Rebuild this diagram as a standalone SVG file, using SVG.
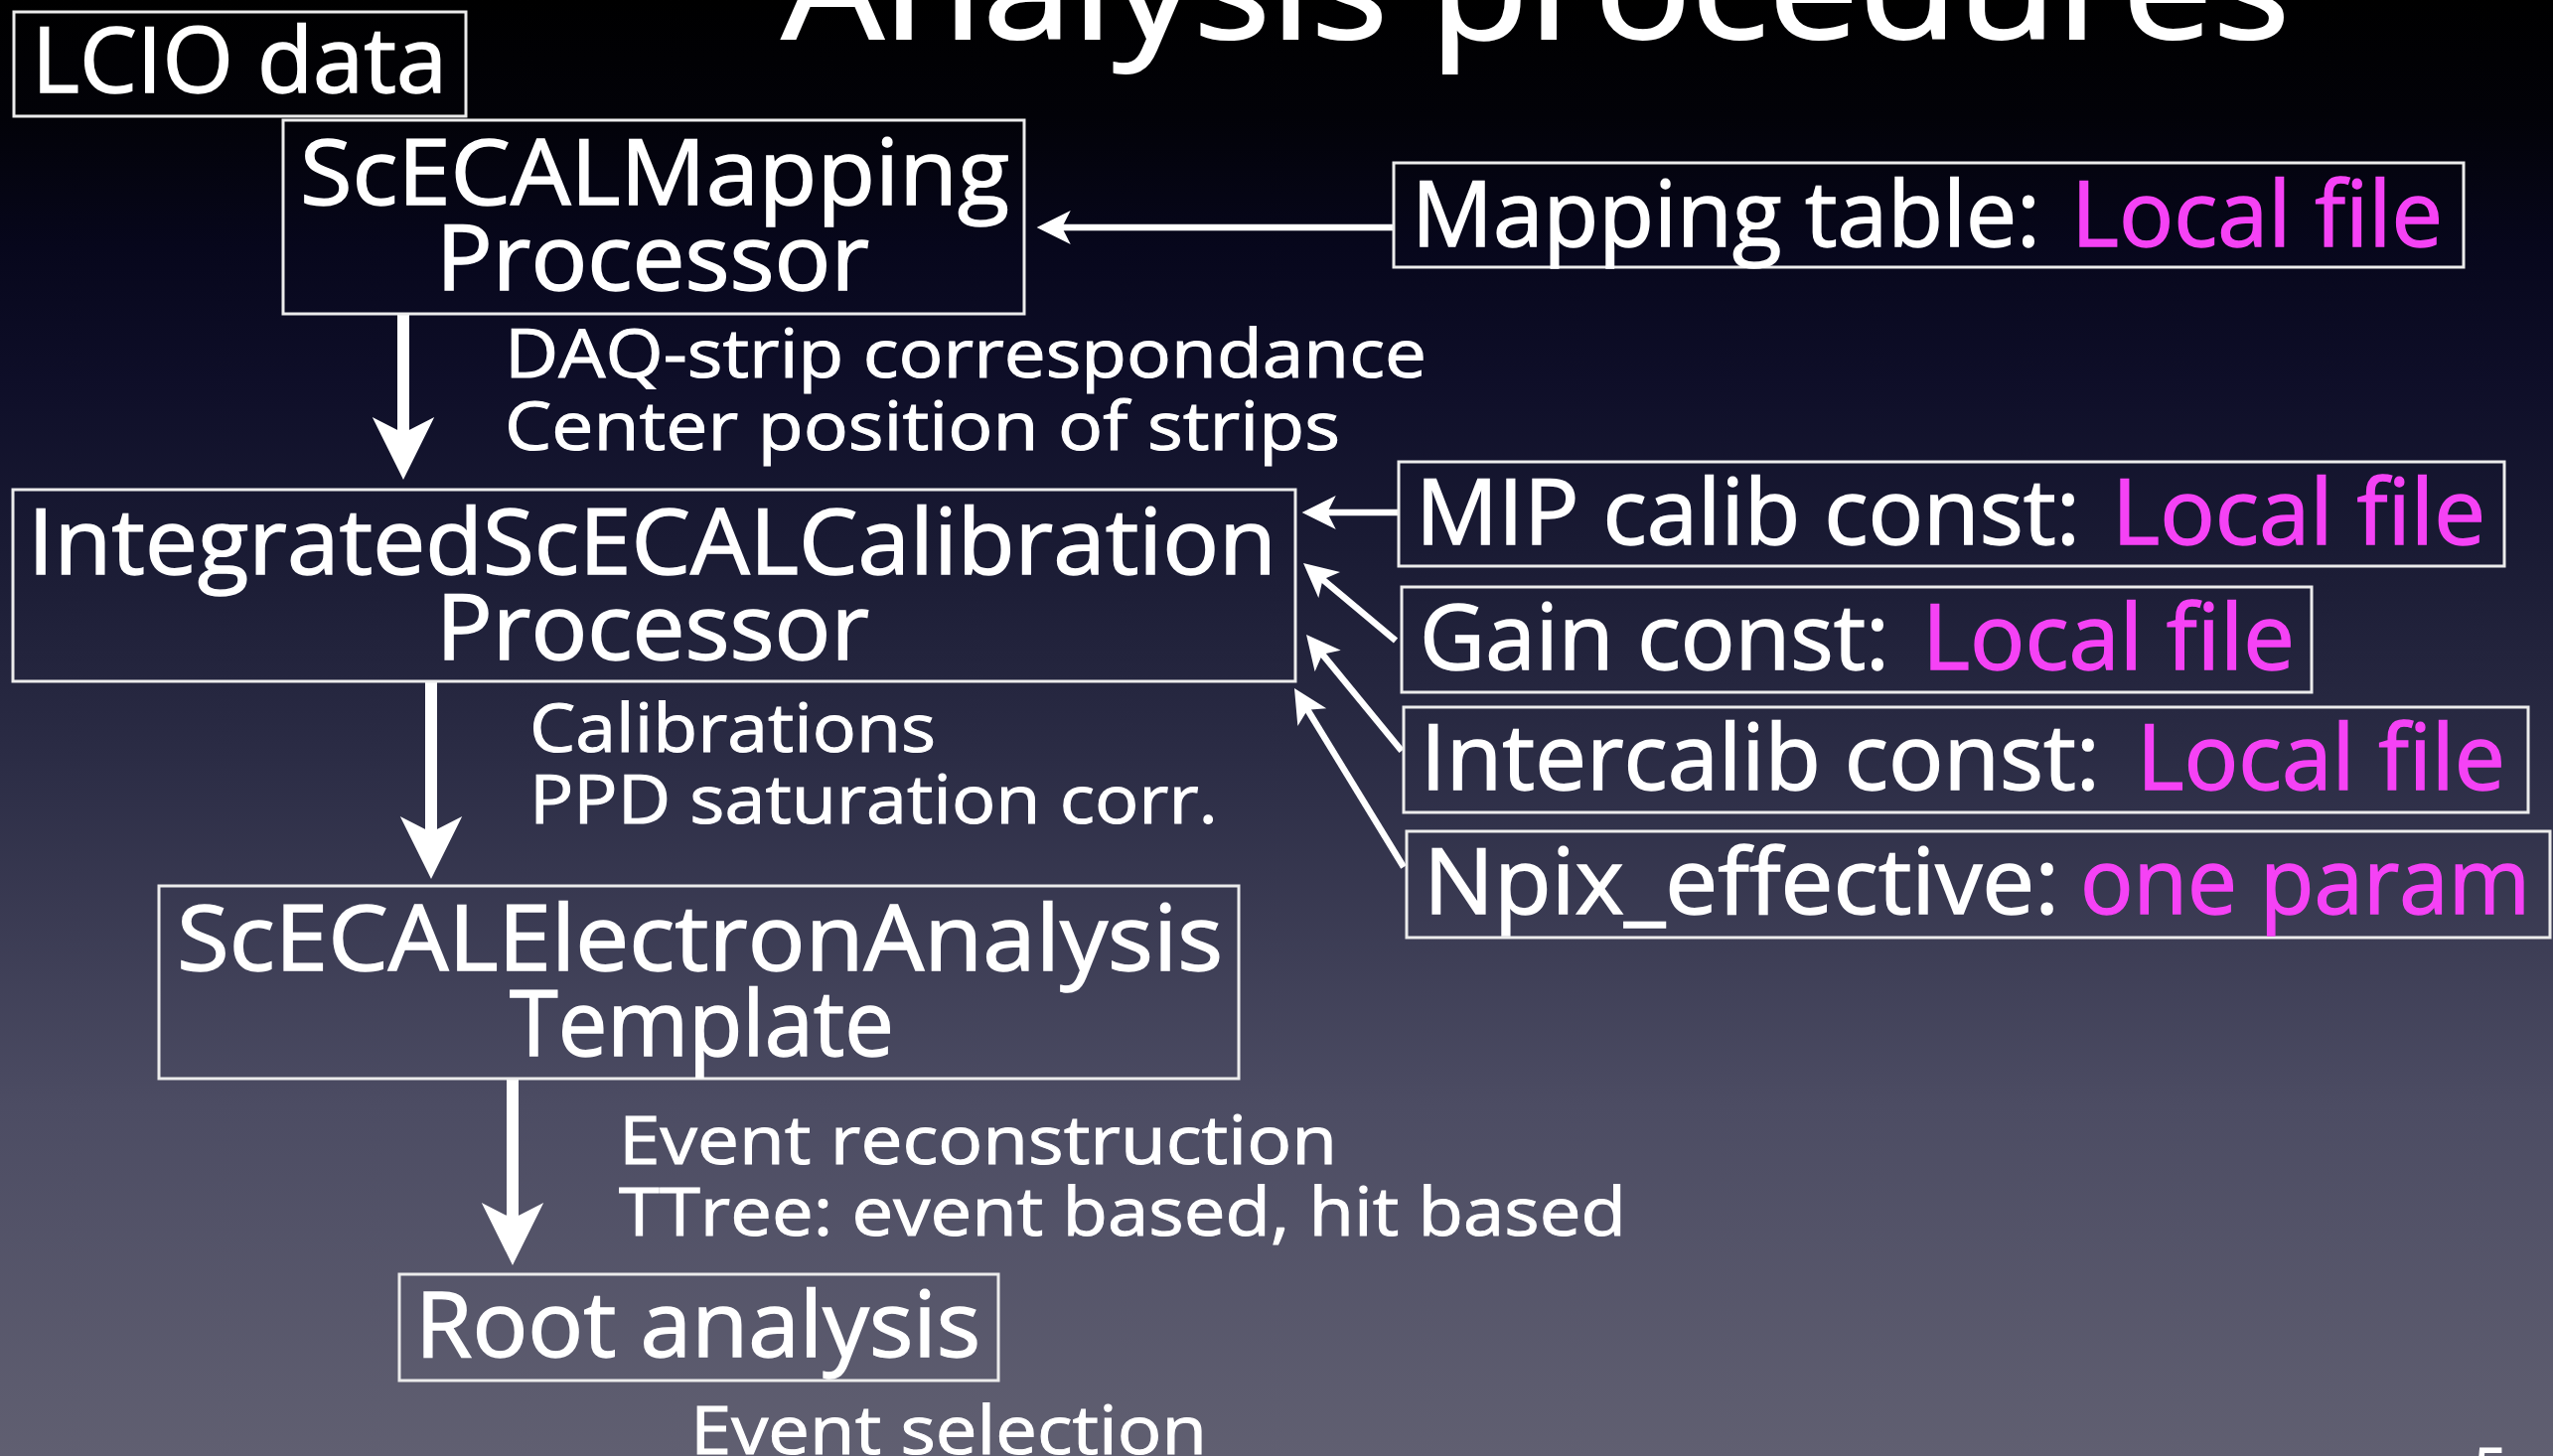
<svg xmlns="http://www.w3.org/2000/svg" width="2570" height="1466" viewBox="0 0 2570 1466">
<defs>
<linearGradient id="bg" x1="0" y1="0" x2="0" y2="1">
<stop offset="0" stop-color="#000000"/>
<stop offset="0.08" stop-color="#020208"/>
<stop offset="0.17" stop-color="#07071c"/>
<stop offset="0.26" stop-color="#0e0e28"/>
<stop offset="0.38" stop-color="#1a1b34"/>
<stop offset="0.52" stop-color="#2b2c45"/>
<stop offset="0.76" stop-color="#4c4c63"/>
<stop offset="1" stop-color="#605f71"/>
</linearGradient>
<marker id="ah" markerUnits="strokeWidth" markerWidth="6" markerHeight="6" viewBox="0 -3 6 6" refX="1.5" refY="0" orient="auto" overflow="visible">
<path d="M5.25,0 L0,-2.6 L1.33,0 L0,2.6 Z" fill="#ffffff"/>
</marker>
<style>
text{font-family:"Open Sans","Noto Sans","Liberation Sans",sans-serif;fill:#ffffff;stroke:#ffffff}
.big{font-size:91px;stroke-width:1.4}
.mid{font-size:68px;stroke-width:1}
.title{font-size:145px;stroke-width:2}
.mag{fill:#f542f5;stroke:#f542f5}
.box{fill:none;stroke:#ececec;stroke-width:3}
.arr{stroke:#ffffff;fill:none;marker-end:url(#ah)}
.thick{stroke-width:12}
.thin{stroke-width:6.5}
</style>
</defs>
<rect x="0" y="0" width="2570" height="1466" fill="url(#bg)"/>
<text class="title" x="787" y="39" textLength="1518" lengthAdjust="spacingAndGlyphs">Analysis procedures</text>

<g id="connectors">
<line class="arr thick" x1="406" y1="316" x2="406" y2="438"/>
<line class="arr thick" x1="434" y1="687" x2="434" y2="840"/>
<line class="arr thick" x1="516" y1="1087" x2="516" y2="1229"/>
<line class="arr thin" x1="1403" y1="229" x2="1068" y2="229"/>
<line class="arr thin" x1="1408" y1="516" x2="1335" y2="516"/>
<line class="arr thin" x1="1405" y1="645" x2="1330.7" y2="582.7"/>
<line class="arr thin" x1="1411" y1="756" x2="1330.5" y2="657.9"/>
<line class="arr thin" x1="1413" y1="873" x2="1315.7" y2="713.8"/>
</g>

<g id="lcio">
<rect class="box" x="14" y="12" width="455" height="105"/>
<text class="big" x="32" y="93" textLength="418" lengthAdjust="spacingAndGlyphs">LCIO data</text>
</g>
<g id="mapping">
<rect class="box" x="285" y="121" width="746" height="195"/>
<text class="big" x="302" y="206" textLength="714" lengthAdjust="spacingAndGlyphs">ScECALMapping</text>
<text class="big" x="439" y="292" textLength="436" lengthAdjust="spacingAndGlyphs">Processor</text>
</g>
<g id="maptable">
<rect class="box" x="1403" y="164" width="1077" height="105"/>
<text class="big" x="1421" y="248" textLength="633" lengthAdjust="spacingAndGlyphs">Mapping table:</text>
<text class="big mag" x="2085" y="248" textLength="374" lengthAdjust="spacingAndGlyphs">Local file</text>
</g>
<g id="integrated">
<rect class="box" x="13" y="493" width="1291" height="193"/>
<text class="big" x="28" y="578" textLength="1257" lengthAdjust="spacingAndGlyphs">IntegratedScECALCalibration</text>
<text class="big" x="439" y="664" textLength="436" lengthAdjust="spacingAndGlyphs">Processor</text>
</g>
<g id="mip">
<rect class="box" x="1408" y="465" width="1113" height="105"/>
<text class="big" x="1425" y="548" textLength="669" lengthAdjust="spacingAndGlyphs">MIP calib const:</text>
<text class="big mag" x="2126" y="548" textLength="376" lengthAdjust="spacingAndGlyphs">Local file</text>
</g>
<g id="gain">
<rect class="box" x="1411" y="591" width="916" height="106"/>
<text class="big" x="1429" y="674" textLength="473" lengthAdjust="spacingAndGlyphs">Gain const:</text>
<text class="big mag" x="1935" y="674" textLength="375" lengthAdjust="spacingAndGlyphs">Local file</text>
</g>
<g id="intercalib">
<rect class="box" x="1413" y="712" width="1132" height="106"/>
<text class="big" x="1430" y="795" textLength="684" lengthAdjust="spacingAndGlyphs">Intercalib const:</text>
<text class="big mag" x="2151" y="795" textLength="371" lengthAdjust="spacingAndGlyphs">Local file</text>
</g>
<g id="npix">
<rect class="box" x="1416" y="837" width="1151" height="107"/>
<text class="big" x="1433" y="920" textLength="640" lengthAdjust="spacingAndGlyphs">Npix_effective:</text>
<text class="big mag" x="2094" y="920" textLength="453" lengthAdjust="spacingAndGlyphs">one param</text>
</g>
<g id="electron">
<rect class="box" x="160" y="892" width="1087" height="194"/>
<text class="big" x="178" y="977" textLength="1053" lengthAdjust="spacingAndGlyphs">ScECALElectronAnalysis</text>
<text class="big" x="513" y="1063" textLength="387" lengthAdjust="spacingAndGlyphs">Template</text>
</g>
<g id="root">
<rect class="box" x="402" y="1283" width="603" height="107"/>
<text class="big" x="418" y="1366" textLength="569" lengthAdjust="spacingAndGlyphs">Root analysis</text>
</g>

<g id="labels">
<text class="mid" x="508" y="380" textLength="928" lengthAdjust="spacingAndGlyphs">DAQ-strip correspondance</text>
<text class="mid" x="508" y="453" textLength="841" lengthAdjust="spacingAndGlyphs">Center position of strips</text>
<text class="mid" x="533" y="757" textLength="409" lengthAdjust="spacingAndGlyphs">Calibrations</text>
<text class="mid" x="533" y="829" textLength="693" lengthAdjust="spacingAndGlyphs">PPD saturation corr.</text>
<text class="mid" x="623" y="1172" textLength="723" lengthAdjust="spacingAndGlyphs">Event reconstruction</text>
<text class="mid" x="623" y="1244" textLength="1014" lengthAdjust="spacingAndGlyphs">TTree: event based, hit based</text>
<text class="mid" x="695" y="1464" textLength="520" lengthAdjust="spacingAndGlyphs">Event selection</text>
<text x="2490" y="1501" style="font-size:60px">5</text>
</g>
</svg>
